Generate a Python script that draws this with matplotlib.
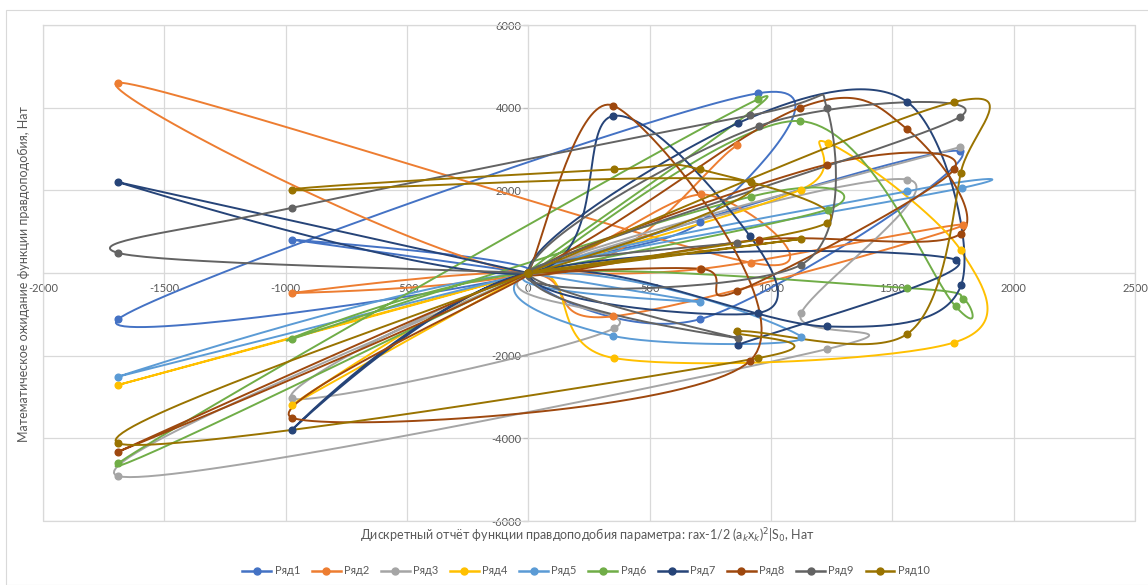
import numpy as np
import matplotlib
matplotlib.use("Agg")
import matplotlib.pyplot as plt
from matplotlib.patches import Rectangle

# ---- data -------------------------------------------------------------
series_names = ["Ряд1", "Ряд2", "Ряд3", "Ряд4", "Ряд5",
                "Ряд6", "Ряд7", "Ряд8", "Ряд9", "Ряд10"]
series_colors = ["#4472C4", "#ED7D31", "#A5A5A5", "#FFC000", "#5B9BD5",
                 "#70AD47", "#264478", "#9E480E", "#636363", "#997300"]

r1_x = [0, -975, 0, -1690, 945, 709, 0, 709, 1780, 0]
r1_y = [0, 807, 0, -1115, 4347, 1227, 0, -1115, 2950, 0]

r2_x = [860, 0, -1690, 918, 712, 0, -975, 0, 348, 1790, 709, 0]
r2_y = [3086, 0, 4606, 250, 1900, 0, -485, 0, -1050, 1150, 97, 0]

r3_x = [0, -1690, 1230, 1124, 1562, 0, -975, 355, 0, 1780]
r3_y = [0, -4914, -1842, -970, 2262, 0, -3030, -1333, 0, 3050]

r4_x = [0, -1690, 0, 1124, 1233, 1782, 1754, 355, 0, -975, 0]
r4_y = [0, -2708, 0, 2020, 3152, 548, -1682, -2060, 0, -3193, 0]

r5_x = [0, -1690, 0, 1124, 348, 0, 1562, 1789, 0, 709, 0]
r5_y = [0, -2507, 0, -1537, -1520, 0, 1978, 2060, 0, -700, 0]

r6_x = [0, -1690, 945, 0, 1121, 1761, 1792, 1562, 0, -975, 918, 1233, 0]
r6_y = [0, -4606, 4200, 0, 3676, -810, -630, -364, 0, -1600, 1850, 1535, 0]

r7_x = [0, -1690, 0, 350, 914, 945, 0, 862, 1562, 1784, 1230, 0, -975, 0, 1761, 863]
r7_y = [0, 2197, 0, 3800, 888, -970, 0, 3620, 4136, -284, -1294, 0, -3800, 0, 322, -1740]

r8_x = [0, 350, 915, -975, 0, -1690, 0, 1121, 1562, 1782, 950, 0, 1230, 1754, 860, 712, 0]
r8_y = [0, 4050, -2118, -3500, 0, -4325, 0, 4000, 3474, 953, 807, 0, 2625, 2505, -445, 100, 0]

r9_x = [0, -1690, -975, 915, 1230, 1124, 0, 1779, 950, 0, 863, 0, 860]
r9_y = [0, 485, 1576, 3813, 4000, 200, 0, 3780, 3555, 0, -1575, 0, 735]

r10_x = [0, -1690, 945, 860, 1562, 1782, 1754, 0, 918, -975, 352, 709, 1230, 0, 1124, 0]
r10_y = [0, -4121, -2060, -1415, -1472, 2424, 4136, 0, 2190, 2003, 2505, 2505, 1212, 0, 824, 0]

series_x = [r1_x, r2_x, r3_x, r4_x, r5_x, r6_x, r7_x, r8_x, r9_x, r10_x]
series_y = [r1_y, r2_y, r3_y, r4_y, r5_y, r6_y, r7_y, r8_y, r9_y, r10_y]

x_ticks = [-2000, -1500, -1000, -500, 0, 500, 1000, 1500, 2000, 2500]
y_ticks = [-6000, -4000, -2000, 0, 2000, 4000, 6000]

x_title = "Дискретный отчёт функции правдоподобия параметра: rax-1/2 (a$_k$x$_k$)$^2$|S$_0$, Нат"
y_title = "Математическое ожидание функции правдоподобия, Нат"

# ---- figure -----------------------------------------------------------
W, H = 1148, 585
fig = plt.figure(figsize=(W / 100, H / 100), dpi=100)
plt.rcParams["font.family"] = ["Lato", "DejaVu Sans"]
text_color = "#595959"
grid_color = "#D9D9D9"

fig.patches.append(Rectangle((5.5 / W, 0.0), 1.2, 1 - 10 / H,
                             transform=fig.transFigure, fill=False,
                             edgecolor=grid_color, linewidth=0.8))

L, R, T, B = 43, 1135, 25, 521
ax = fig.add_axes([L / W, 1 - B / H, (R - L) / W, (B - T) / H])
ax.set_xlim(-2000, 2500)
ax.set_ylim(-6000, 6000)

# pixel scale per data unit, used so the smoothing follows screen geometry
sx = (R - L) / 4500.0
sy = (B - T) / 12000.0


def smooth_path(xs, ys, n=40):
    p = np.column_stack([np.asarray(xs, float) * sx, np.asarray(ys, float) * sy])
    out = [p[0]]
    m = len(p)
    t = np.linspace(0, 1, n)[1:, None]
    for i in range(m - 1):
        p0 = p[i - 1] if i > 0 else p[i]
        p1, p2 = p[i], p[i + 1]
        p3 = p[i + 2] if i + 2 < m else p[i + 1]
        c1 = p1 + (p2 - p0) / 6.0
        c2 = p2 - (p3 - p1) / 6.0
        seg = ((1 - t) ** 3) * p1 + 3 * ((1 - t) ** 2) * t * c1 \
            + 3 * (1 - t) * t ** 2 * c2 + t ** 3 * p2
        out.extend(seg)
    out = np.array(out)
    return out[:, 0] / sx, out[:, 1] / sy


handles = []
for name, col, xs, ys in zip(series_names, series_colors, series_x, series_y):
    cx, cy = smooth_path(xs, ys)
    ax.plot(cx, cy, color=col, lw=1.4, solid_capstyle="round", zorder=3)
    ax.plot(xs, ys, ls="none", marker="o", ms=4.8, color=col, zorder=4)
    h, = ax.plot([], [], color=col, lw=1.8, marker="o", ms=5, label=name)
    handles.append(h)

# centred axes like the spreadsheet layout
for s in ["top", "right"]:
    ax.spines[s].set_visible(False)
ax.spines["left"].set_position(("data", 0))
ax.spines["bottom"].set_position(("data", 0))
ax.spines["left"].set_color(grid_color)
ax.spines["bottom"].set_color(grid_color)
ax.set_axisbelow(True)
ax.grid(True, color=grid_color, lw=0.9)
ax.set_xticks(x_ticks)
ax.set_yticks(y_ticks)
ax.set_xticklabels([str(v) for v in x_ticks])
ax.set_yticklabels(["" if v == 0 else str(v) for v in y_ticks])
ax.tick_params(axis="x", length=0, labelsize=8, colors=text_color, pad=7)
ax.tick_params(axis="y", length=3.5, width=0.9, color="#BFBFBF",
               labelsize=8, labelcolor=text_color, pad=1.5)

# frame lines of the plotting area
ax.plot([-2000, 2500, 2500, -2000, -2000], [6000, 6000, -6000, -6000, 6000],
        color=grid_color, lw=0.9, zorder=0.6, clip_on=False)

fig.text(587 / W, 1 - 536 / H, x_title, ha="center", va="center",
         fontsize=9, color=text_color)
fig.text(24 / W, 1 - 274 / H, y_title, ha="center", va="center",
         rotation=90, fontsize=9, color=text_color)

fig.legend(handles=handles, loc="center", bbox_to_anchor=(586 / W, 1 - 571 / H),
           ncol=10, frameon=False, fontsize=8, labelcolor=text_color,
           handlelength=2.6, columnspacing=1.05, handletextpad=0.3)

fig.savefig("out.png", dpi=100, facecolor="white")
